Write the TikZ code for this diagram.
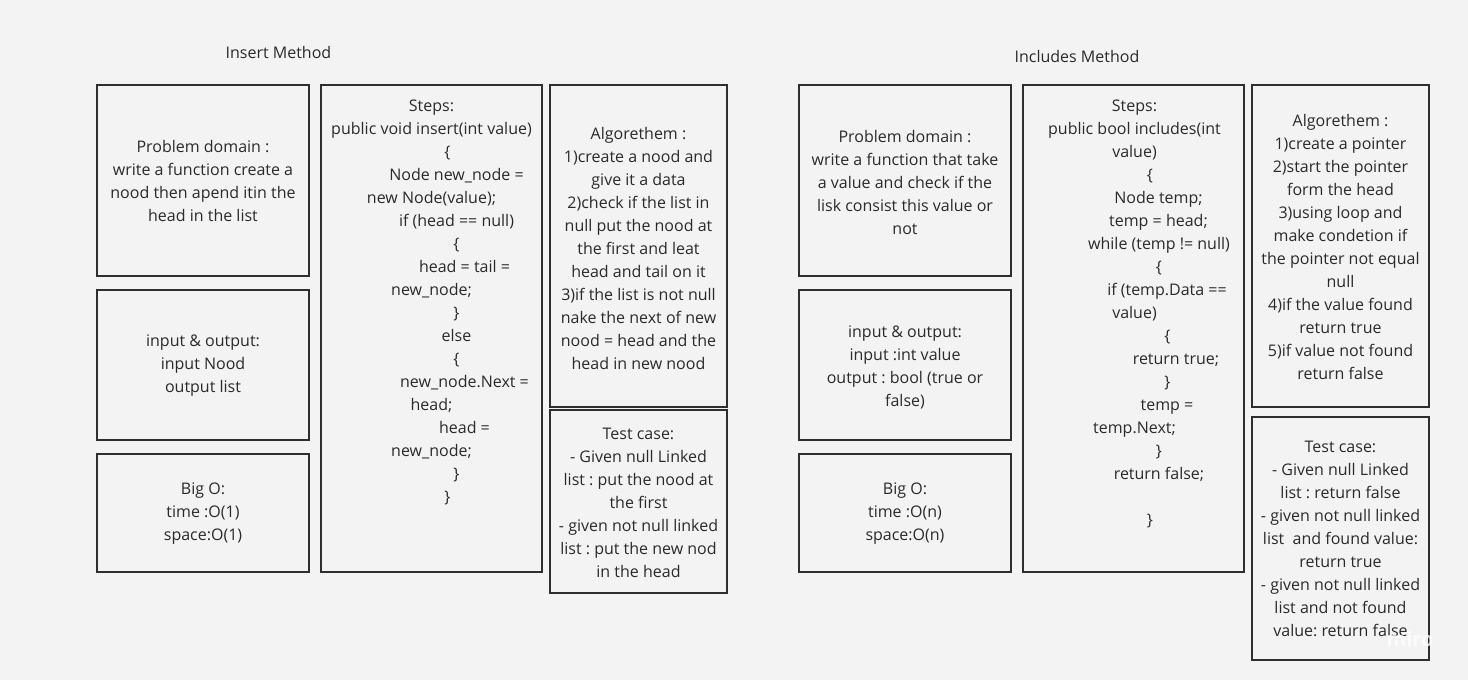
\documentclass[tikz,border=0pt]{standalone}
\usepackage{fontspec}
\setmainfont{Open Sans}
\frenchspacing
\definecolor{bg}{HTML}{F3F3F3}
\definecolor{ink}{HTML}{2A2A2A}
\definecolor{edge}{HTML}{2E2E2E}
\newcommand{\ind}[2]{\hspace*{#1pt}\hspace*{#1pt}#2}
\begin{document}
\begin{tikzpicture}[x=1pt,y=-1pt,
  card/.style={draw=edge,line width=2pt,fill=bg},
  txt/.style={text=ink,align=center,font=\fontsize{16}{23}\selectfont,inner sep=0pt},
  title/.style={text=ink,font=\fontsize{16}{20}\selectfont,inner sep=0pt}]
\fill[bg] (0,0) rectangle (1468,680);
\useasboundingbox (0,0) rectangle (1468,680);
% ---------- Insert Method ----------
\node[title] (t1) at (278.5,52.5) {Insert Method};
\draw[card] (97,85) rectangle (309,276);
\node[txt] (pd1) at (203,181) {Problem domain :\\write a function create a\\nood then apend itin the\\head in the list};
\draw[card] (97,290) rectangle (309,440);
\node[txt] (io1) at (203,365.5) {input \& output:\\input Nood\\output list};
\draw[card] (97,454) rectangle (309,572);
\node[txt] (bo1) at (203,514) {Big O:\\time :O(1)\\space:O(1)};
\draw[card] (321,85) rectangle (542,572);
\node[txt] (st1) at (431.5,302) {Steps:\\
public void insert(int value)\\
\ind{16}{\{}\\
\ind{25}{Node new\_node =}\\
new Node(value);\\
\ind{25}{if (head == null)}\\
\ind{25}{\{}\\
\ind{33}{head = tail =}\\
new\_node;\\
\ind{25}{\}}\\
\ind{25}{else}\\
\ind{25}{\{}\\
\ind{33}{new\_node.Next =}\\
head;\\
\ind{33}{head =}\\
new\_node;\\
\ind{25}{\}}\\
\ind{16}{\}}};
\draw[card] (550,85) rectangle (727,407);
\node[txt] (al1) at (638.5,248) {Algorethem :\\1)create a nood and\\give it a data\\2)check if the list in\\null put the nood at\\the first and leat\\head and tail on it\\3)if the list is not null\\nake the next of new\\nood = head and the\\head in new nood};
\draw[card] (550,410) rectangle (727,593);
\node[txt] (tc1) at (638.5,502.5) {Test case:\\- Given null Linked\\list : put the nood at\\the first\\- given not null linked\\list : put the new nod\\in the head};
% ---------- Includes Method ----------
\node[title] (t2) at (1077,56.5) {Includes Method};
\draw[card] (799,85) rectangle (1011,276);
\node[txt] (pd2) at (905,182) {Problem domain :\\write a function that take\\a value and check if the\\lisk consist this value or\\not};
\draw[card] (799,290) rectangle (1011,440);
\node[txt] (io2) at (905,367) {input \& output:\\input :int value\\output : bool (true or\\false)};
\draw[card] (799,454) rectangle (1011,572);
\node[txt] (bo2) at (905,514) {Big O:\\time :O(n)\\space:O(n)};
\draw[card] (1023,85) rectangle (1244,572);
\node[txt] (st2) at (1134.5,313.5) {Steps:\\
public bool includes(int\\
value)\\
\ind{15.5}{\{}\\
\ind{24}{Node temp;}\\
\ind{24}{temp = head;}\\
\ind{24.5}{while (temp != null)}\\
\ind{24.5}{\{}\\
\ind{32.5}{if (temp.Data ==}\\
value)\\
\ind{33}{\{}\\
\ind{41.5}{return true;}\\
\ind{33}{\}}\\
\ind{32.5}{temp =}\\
temp.Next;\\
\ind{24.5}{\}}\\
\ind{24.5}{return false;}\\
\mbox{}\\
\ind{15.5}{\}}};
\draw[card] (1252,85) rectangle (1429,407);
\node[txt] (al2) at (1340.5,247) {Algorethem :\\1)create a pointer\\2)start the pointer\\form the head\\3)using loop and\\make condetion if\\the pointer not equal\\null\\4)if the value found\\return true\\5)if value not found\\return false};
\draw[card] (1252,417) rectangle (1429,660);
\node[txt] (tc2) at (1340.5,539) {Test case:\\- Given null Linked\\list : return false\\- given not null linked\\list~ and found value:\\return true\\- given not null linked\\list and not found\\value: return false};
\node[text=white,opacity=0.75,font=\bfseries\fontsize{20}{20}\selectfont,inner sep=0pt] (miro) at (1410,639) {miro};
\end{tikzpicture}
\end{document}
